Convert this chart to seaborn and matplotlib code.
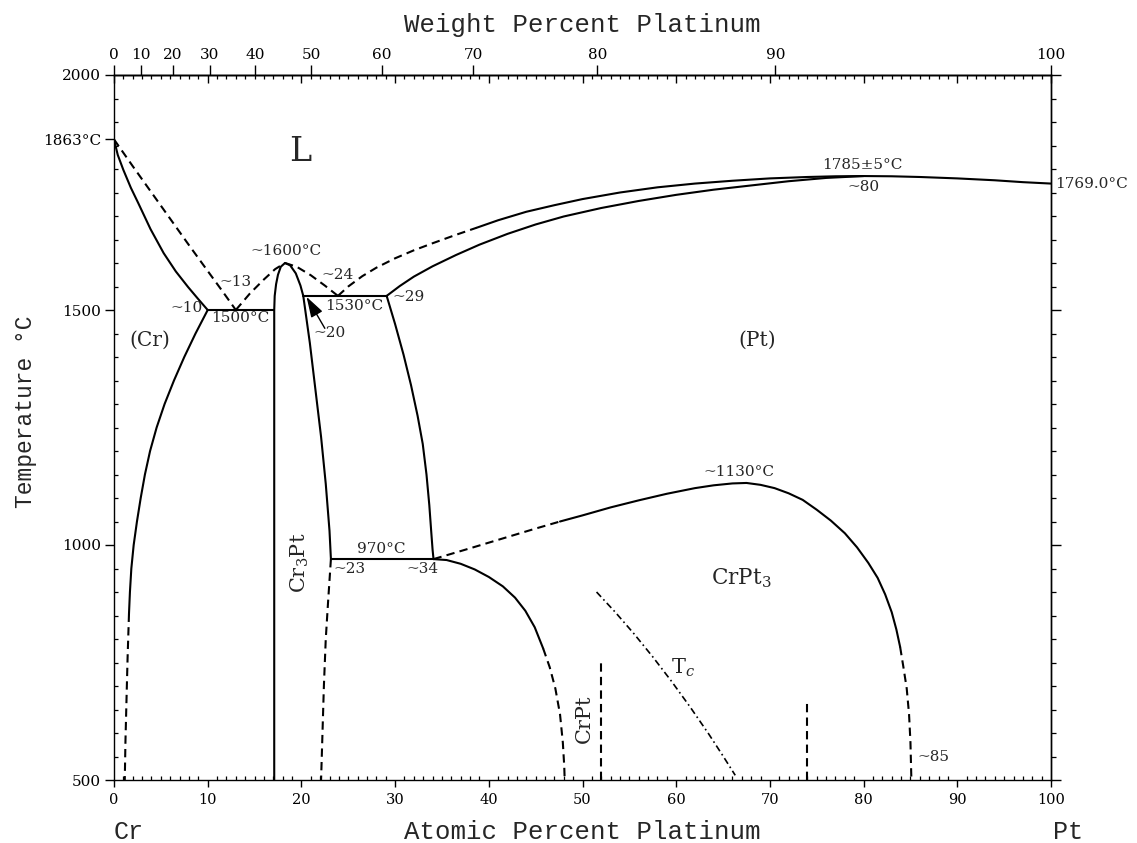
import numpy as np
import matplotlib
matplotlib.use("Agg")
import matplotlib.pyplot as plt
from matplotlib.ticker import MultipleLocator, FixedLocator, NullFormatter
import seaborn as sns

# ---------------- data: atomic % Pt (x) vs temperature in degC (t) ----------------
M_CR, M_PT = 51.996, 195.08

cr_liquidus_x = [0, 2, 4, 6, 8, 10, 11.5, 13]
cr_liquidus_t = [1863, 1806, 1750, 1694, 1638, 1583, 1542, 1500]

cr_solidus_x = [0, 0.4, 1.0, 1.8, 2.6, 3.9, 5.3, 6.6, 7.9, 9.0, 10]
cr_solidus_t = [1863, 1830, 1798, 1760, 1727, 1672, 1621, 1582, 1549, 1523, 1500]

cr_solvus_x = [10, 8.7, 7.5, 6.4, 5.4, 4.55, 3.85, 3.3, 2.85, 2.45, 2.1, 1.85, 1.7, 1.6]
cr_solvus_t = [1500, 1450, 1400, 1350, 1300, 1250, 1200, 1150, 1100, 1050, 1000, 950, 900, 854]
cr_solvus_dash_x = [1.6, 1.45, 1.32, 1.22, 1.15]
cr_solvus_dash_t = [854, 760, 660, 580, 500]

eut1500_x = [10, 17.1]
eut1500_t = [1500, 1500]

cr3pt_x = [17.1, 17.1, 17.15, 17.3, 17.5, 17.8, 18.25, 18.8, 19.4, 19.9, 20.2,
           20.55, 20.9, 21.2, 21.5, 21.8, 22.1, 22.35, 22.6, 22.8, 23.0, 23.15]
cr3pt_t = [500, 1500, 1530, 1555, 1575, 1592, 1600, 1595, 1578, 1552, 1530,
           1480, 1430, 1380, 1330, 1280, 1230, 1180, 1130, 1080, 1030, 970]
cr3pt_dash_x = [23.15, 22.85, 22.6, 22.4, 22.25, 22.1]
cr3pt_dash_t = [970, 880, 800, 700, 600, 500]

liq_mid_left_x = [13, 14.5, 16, 17.2, 18.25]
liq_mid_left_t = [1500, 1535, 1565, 1587, 1600]
liq_mid_right_x = [18.25, 19.5, 21, 22.5, 23.9]
liq_mid_right_t = [1600, 1592, 1574, 1552, 1530]

per1530_x = [20.2, 29.1]
per1530_t = [1530, 1530]

pt_liq_dash_x = [23.9, 25, 26.5, 28, 30, 32, 34, 36.5, 38.7]
pt_liq_dash_t = [1530, 1550, 1572, 1590, 1610, 1627, 1642, 1660, 1675]
pt_liq_x = [38.7, 41, 44, 47, 50, 54, 58, 62, 66, 70, 74, 77, 80, 83, 86, 90, 94, 97, 100]
pt_liq_t = [1675, 1691, 1709, 1723, 1736, 1750, 1761, 1769, 1775, 1780, 1783, 1784.5,
            1785, 1784.5, 1783, 1780, 1776, 1772, 1769]

pt_sol_x = [29.1, 30.5, 32, 34, 36.5, 39, 42, 45, 48, 52, 56, 60, 64, 68, 72, 76, 80]
pt_sol_t = [1530, 1551, 1571, 1593, 1617, 1639, 1662, 1682, 1699, 1717, 1732, 1745,
            1756, 1765, 1774, 1781, 1785]

pt_solvus_x = [29.1, 30.0, 30.9, 31.7, 32.4, 32.95, 33.35, 33.65, 33.85, 34.0, 34.1]
pt_solvus_t = [1530, 1470, 1405, 1340, 1275, 1215, 1150, 1085, 1030, 990, 970]

eut970_x = [23.15, 34.1]
eut970_t = [970, 970]

dome_dash_x = [34.1, 38, 42, 45, 47.6]
dome_dash_t = [970, 993, 1017, 1035, 1050]
dome_x = [47.6, 50, 53, 56, 59, 62, 64, 66, 67.5, 69, 70.5, 72, 73.5, 75, 76.5, 78,
          79.3, 80.5, 81.5, 82.3, 83, 83.5, 83.9]
dome_t = [1050, 1063, 1080, 1095, 1109, 1121, 1127, 1131, 1132, 1128, 1121, 1110, 1096,
          1075, 1052, 1025, 995, 962, 930, 895, 857, 820, 783]
dome_dash_right_x = [83.9, 84.25, 84.6, 84.85, 85.0, 85.1]
dome_dash_right_t = [783, 740, 695, 640, 580, 500]

pt_low_x = [34.1, 35.5, 37, 38.5, 40, 41.5, 42.8, 43.9, 44.9, 45.8]
pt_low_t = [970, 968, 960, 948, 932, 912, 888, 860, 825, 780]
pt_low_dash_x = [45.8, 46.5, 47.1, 47.6, 47.9, 48.05, 48.1]
pt_low_dash_t = [780, 740, 695, 640, 580, 530, 500]

crpt_edge_x = [52, 52]
crpt_edge_t = [500, 750]
crpt3_edge_x = [74, 74]
crpt3_edge_t = [500, 672]

tc_x = [51.5, 53.5, 55.5, 57.5, 59.5, 61.5, 63.5, 65, 66.3]
tc_t = [900, 857, 811, 762, 710, 655, 597, 551, 510]

x_major = list(range(0, 101, 10))
wt_major = list(range(0, 101, 10))
y_major = [500, 1000, 1500, 1863, 2000]
y_major_labels = ["500", "1000", "1500", "1863°C", "2000"]

# ---------------- styling ----------------
sns.set_theme(style="ticks", context="notebook")
plt.rcParams.update({
    "font.family": ["DejaVu Serif"],
    "mathtext.fontset": "dejavuserif",
    "axes.linewidth": 1.0,
    "axes.edgecolor": "black",
    "xtick.color": "black",
    "ytick.color": "black",
    "xtick.major.width": 1.0,
    "ytick.major.width": 1.0,
    "xtick.minor.width": 0.9,
    "ytick.minor.width": 0.9,
})

fig = plt.figure(figsize=(11.37, 8.43), dpi=100)
ax = fig.add_axes([114 / 1137, 63 / 843, 937 / 1137, 705 / 843])

SOLID = "-"
DASH = (0, (4, 2.5))
DASHDOT = (0, (4, 2, 1, 2))


def curve(xs, ts, ls=SOLID, lw=1.5):
    sns.lineplot(x=xs, y=ts, ax=ax, sort=False, estimator=None, color="black",
                 linewidth=lw, linestyle=ls, legend=False)


curve(cr_liquidus_x, cr_liquidus_t, DASH)
curve(cr_solidus_x, cr_solidus_t)
curve(cr_solvus_x, cr_solvus_t)
curve(cr_solvus_dash_x, cr_solvus_dash_t, DASH)
curve(eut1500_x, eut1500_t)
curve(cr3pt_x, cr3pt_t)
curve(cr3pt_dash_x, cr3pt_dash_t, DASH)
curve(liq_mid_left_x, liq_mid_left_t, DASH)
curve(liq_mid_right_x, liq_mid_right_t, DASH)
curve(per1530_x, per1530_t)
curve(pt_liq_dash_x, pt_liq_dash_t, DASH)
curve(pt_liq_x, pt_liq_t)
curve(pt_sol_x, pt_sol_t)
curve(pt_solvus_x, pt_solvus_t)
curve(eut970_x, eut970_t)
curve(dome_dash_x, dome_dash_t, DASH)
curve(dome_x, dome_t)
curve(dome_dash_right_x, dome_dash_right_t, DASH)
curve(pt_low_x, pt_low_t)
curve(pt_low_dash_x, pt_low_dash_t, DASH)
curve(crpt_edge_x, crpt_edge_t, DASH)
curve(crpt3_edge_x, crpt3_edge_t, DASH)
curve(tc_x, tc_t, DASHDOT, lw=1.2)

ax.set_xlim(0, 100)
ax.set_ylim(500, 2000)

# ---------------- axes / ticks ----------------
ax.xaxis.set_major_locator(FixedLocator(x_major))
ax.xaxis.set_minor_locator(MultipleLocator(1))
ax.set_yticks(y_major, y_major_labels)
ax.yaxis.set_minor_locator(MultipleLocator(50))
ax.tick_params(axis="x", which="major", direction="out", length=5, width=1.0,
               labelsize=10.5, pad=4, top=False)
ax.tick_params(axis="x", which="minor", direction="in", length=3, width=0.9, top=False)
ax.tick_params(axis="y", which="major", direction="out", length=6.5, width=1.0,
               labelsize=11, pad=3, right=False)
ax.tick_params(axis="y", which="minor", direction="in", length=3, width=0.9, right=False)

# atomic % ticks on the top edge (inward, unlabeled)
top_at = ax.secondary_xaxis("top")
top_at.xaxis.set_major_locator(FixedLocator(x_major))
top_at.xaxis.set_minor_locator(MultipleLocator(1))
top_at.xaxis.set_major_formatter(NullFormatter())
top_at.tick_params(which="major", direction="in", length=6, width=1.0)
top_at.tick_params(which="minor", direction="in", length=3, width=0.9)


def at2wt(a):
    a = np.asarray(a, dtype=float)
    return 100 * a * M_PT / (a * M_PT + (100 - a) * M_CR)


def wt2at(w):
    w = np.asarray(w, dtype=float)
    return 100 * (w / M_PT) / (w / M_PT + (100 - w) / M_CR)


top_wt = ax.secondary_xaxis("top", functions=(at2wt, wt2at))
top_wt.set_xticks(wt_major)
top_wt.xaxis.set_minor_locator(FixedLocator([]))
top_wt.tick_params(which="major", direction="out", length=7, width=1.0,
                   labelsize=11, pad=2.5)

right_ax = ax.secondary_yaxis("right")
right_ax.yaxis.set_major_locator(MultipleLocator(500))
right_ax.yaxis.set_minor_locator(MultipleLocator(50))
right_ax.yaxis.set_major_formatter(NullFormatter())
right_ax.tick_params(which="major", direction="out", length=7, width=1.0)
right_ax.tick_params(which="minor", direction="out", length=3.5, width=0.9)

MONO = "Liberation Mono"
ax.set_xlabel("Atomic Percent Platinum", family=MONO, fontsize=18.5, va="baseline")
ax.xaxis.set_label_coords(0.5, -0.0837)
top_wt.set_xlabel("Weight Percent Platinum", family=MONO, fontsize=18.5, va="baseline")
top_wt.xaxis.set_label_coords(0.5, 1.061, transform=ax.transAxes)
ax.set_ylabel("Temperature °C", family=MONO, fontsize=16.5, va="baseline")
ax.yaxis.set_label_coords(-0.0875, 0.522)

ax.text(0.016, -0.0837, "Cr", transform=ax.transAxes, family=MONO, fontsize=18,
        ha="center", va="baseline")
ax.text(1.018, -0.0837, "Pt", transform=ax.transAxes, family=MONO, fontsize=18,
        ha="center", va="baseline")

# ---------------- annotations ----------------
num_kw = dict(fontsize=11, ha="center", va="center")
ax.text(18.4, 1625, "~1600°C", **num_kw)
ax.text(13.0, 1560, "~13", **num_kw)
ax.text(23.85, 1574, "~24", **num_kw)
ax.text(7.7, 1504, "~10", **num_kw)
ax.text(13.45, 1483, "1500°C", **num_kw)
ax.text(25.6, 1508, "1530°C", **num_kw)
ax.text(31.4, 1527, "~29", **num_kw)
ax.text(23.05, 1451, "~20", **num_kw)
ax.text(28.55, 991, "970°C", **num_kw)
ax.text(25.1, 949, "~23", **num_kw)
ax.text(32.9, 949, "~34", **num_kw)
ax.text(66.7, 1156, "~1130°C", **num_kw)
ax.text(87.4, 548, "~85", **num_kw)
ax.text(79.9, 1809, "1785±5°C", **num_kw)
ax.text(80.0, 1762, "~80", **num_kw)
ax.text(100.4, 1769, "1769.0°C", fontsize=11, ha="left", va="center", clip_on=False)

ax.annotate("", xy=(20.55, 1528), xytext=(22.5, 1461),
            arrowprops=dict(arrowstyle="-|>,head_length=0.7,head_width=0.22",
                            mutation_scale=18, lw=1.0, color="black",
                            shrinkA=0, shrinkB=0))

ax.text(19.85, 1836, "L", fontsize=24, ha="center", va="center")
ax.text(3.85, 1436, "(Cr)", fontsize=14.5, ha="center", va="center")
ax.text(68.6, 1436, "(Pt)", fontsize=14.5, ha="center", va="center")
ax.text(19.8, 962, "Cr$_3$Pt", fontsize=15, ha="center", va="center", rotation=90)
ax.text(66.9, 930, "CrPt$_3$", fontsize=15.5, ha="center", va="center")
ax.text(50.2, 630, "CrPt", fontsize=15, ha="center", va="center", rotation=90)
ax.text(60.7, 738, "T$_c$", fontsize=15, ha="center", va="center")

fig.savefig("out.png", dpi=100)
